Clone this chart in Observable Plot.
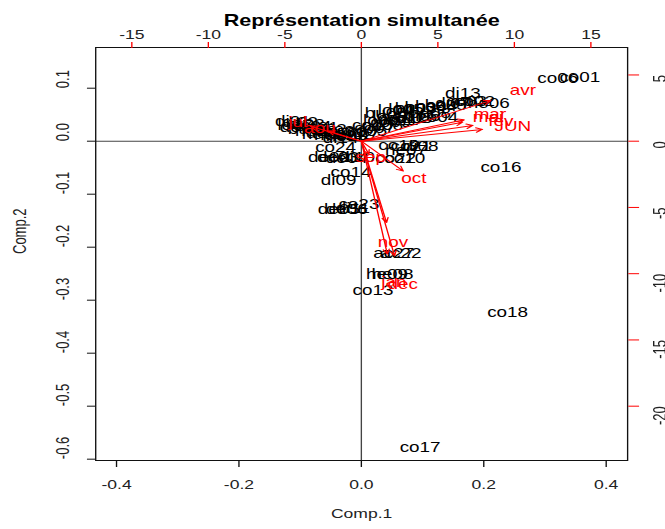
<!DOCTYPE html>
<html>
<head>
<meta charset="utf-8">
<script src="https://cdn.jsdelivr.net/npm/d3@7"></script>
<script src="https://cdn.jsdelivr.net/npm/@observablehq/plot@0.6"></script>
<style>
  html, body { margin: 0; padding: 0; background: #fff; }
  /* the device the biplot was drawn on had wide pixels: stretch horizontally */
  #chart { width: 493px; transform: scale(1.35, 1); transform-origin: 0 0; }
</style>
</head>
<body>
<div id="chart"></div>
<script>
// Scores of the sites on the first two principal components
const siteNames = [
  "di01","di02","di03","di04","lo01","lo02","lo03","bu01","bu02","he01","he02","he03","de01",
  "lo07","bu06","he10","de07","di14","bu07",
  "co05","co07","co08","co09","co11","co12","co04","di05","di06","lo04","lo05","bu03","bu04",
  "he04","he05","di07","co03","co02","he06","di13","bu05","lo06","co15","lo08","bu08",
  "co19","co21","di08","he07","co10","co22","co24","de02","de03","de04","di10","co14","di09",
  "co23","de05","de06","di11","ac22","ac27","he08","he09","co13",
  "co16","co18","co17","co06","co01"
];
const comp1 = [
  -0.112,-0.100,-0.089,-0.078,-0.066,-0.053,-0.040,-0.027,-0.014,-0.063,-0.043,-0.024,-0.099,
  -0.108,-0.086,-0.074,-0.056,-0.034,-0.006,
  0.009,0.022,0.035,0.048,0.061,0.074,0.125,0.087,0.100,0.056,0.073,0.089,0.105,
  0.122,0.138,0.150,0.172,0.185,0.208,0.166,0.040,0.032,0.018,0.047,0.112,
  0.061,0.081,0.097,0.073,0.071,0.056,-0.042,-0.053,-0.038,-0.024,-0.007,-0.017,-0.037,
  -0.004,-0.037,-0.024,-0.014,0.065,0.053,0.051,0.042,0.019,
  0.228,0.239,0.096,0.321,0.357
];
const comp2 = [
  0.037,0.035,0.032,0.028,0.026,0.022,0.018,0.016,0.013,0.013,0.011,0.009,0.026,
  0.030,0.022,0.018,0.014,0.006,0.010,
  0.018,0.024,0.030,0.035,0.039,0.043,0.045,0.043,0.047,0.058,0.060,0.062,0.063,
  0.065,0.067,0.071,0.075,0.075,0.071,0.090,0.052,0.039,0.030,0.046,0.053,
  -0.008,-0.010,-0.010,-0.018,-0.033,-0.033,-0.012,-0.031,-0.031,-0.033,-0.031,-0.059,-0.074,
  -0.119,-0.129,-0.129,-0.127,-0.212,-0.212,-0.252,-0.252,-0.282,
  -0.050,-0.323,-0.578,0.118,0.120
];

// Loadings of the monthly variables (secondary axes)
const monthNames = ["jan","fev","mar","avr","mai","JUN","jul","aou","sep","oct","nov","dec"];
const load1 = [2.12, 9.12, 8.40, 10.56, 8.27, 9.90, -4.15, -2.71, 0.62, 3.43, 2.06, 2.71];
const load2 = [-10.66, 1.49, 2.02, 3.83, 1.79, 1.11, 1.41, 0.96, -1.23, -2.82, -7.68, -10.81];

// Axis ticks
const xTicks = [-0.4, -0.2, 0.0, 0.2, 0.4];
const yTicks = [0.1, 0.0, -0.1, -0.2, -0.3, -0.4, -0.5, -0.6];
const topTicks = [-15, -10, -5, 0, 5, 10, 15];
const rightTicks = [5, 0, -5, -10, -15, -20];

// Ratio between the loading scale and the score scale
const ratio = 40;

const sites = siteNames.map((name, i) => ({name, x: comp1[i], y: comp2[i]}));
const months = monthNames.map((name, i) => ({name, x: load1[i], y: load2[i]}));

const font = "'Liberation Sans', Arial, Helvetica, sans-serif";

const chart = Plot.plot({
  width: 493,
  height: 529,
  marginTop: 47,
  marginBottom: 69,
  marginLeft: 70.4,
  marginRight: 28.6,
  x: {domain: [-0.434, 0.435], label: null},
  y: {domain: [-0.6025, 0.1768], label: null},
  style: {fontFamily: font, fontSize: "13px", color: "#000", background: "#fff", overflow: "visible"},
  marks: [
    // zero reference lines
    Plot.ruleY([0], {stroke: "#444", strokeWidth: 1}),
    Plot.ruleX([0], {stroke: "#444", strokeWidth: 1}),
    Plot.frame({stroke: "#111", strokeWidth: 1}),

    // bottom axis (scores)
    Plot.axisX(xTicks, {anchor: "bottom", tickSize: 7, tickPadding: 12, fontSize: 13,
      tickFormat: d => d.toFixed(1), label: null, stroke: "#111", fill: "#222"}),
    // left axis (scores)
    Plot.axisY(yTicks, {anchor: "left", tickSize: 6, tickFormat: () => "", label: null, stroke: "#111"}),
    Plot.text(yTicks, {y: d => d, text: d => d.toFixed(1), frameAnchor: "left", dx: -24,
      rotate: -90, fontSize: 13, fill: "#222"}),

    // top axis (loadings)
    Plot.axisX(topTicks.map(v => v / ratio), {anchor: "top", tickSize: 6, tickFormat: () => "",
      label: null, stroke: "#f00"}),
    Plot.text(topTicks, {x: d => d / ratio, text: d => String(d), frameAnchor: "top", dy: -18,
      fontSize: 13, fill: "#222"}),
    // right axis (loadings)
    Plot.axisY(rightTicks.map(v => v / ratio), {anchor: "right", tickSize: 8, tickFormat: () => "",
      label: null, stroke: "#f00"}),
    Plot.text(rightTicks, {y: d => d / ratio, text: d => String(d), frameAnchor: "right", dx: 24.6,
      rotate: -90, fontSize: 13, fill: "#222"}),

    // axis titles and main title
    Plot.text(["Comp.1"], {frameAnchor: "bottom", dy: 57, fontSize: 13, fill: "#222"}),
    Plot.text(["Comp.2"], {frameAnchor: "left", dx: -55.6, rotate: -90, fontSize: 13, fill: "#222"}),
    Plot.text(["Représentation simultanée"], {frameAnchor: "top", dy: -33, fontSize: 16,
      fontWeight: "bold", fill: "#000"}),

    // sites
    Plot.text(sites, {x: "x", y: "y", text: "name", fontSize: 14, fill: "#000"}),

    // months: arrows to 80% of the loading, label at the loading
    Plot.arrow(months, {
      x1: () => 0, y1: () => 0,
      x2: d => 0.8 * d.x / ratio, y2: d => 0.8 * d.y / ratio,
      stroke: "#f00", strokeWidth: 1, headLength: 8, headAngle: 50
    }),
    Plot.text(months, {x: d => d.x / ratio, y: d => d.y / ratio, text: "name", fontSize: 14, fill: "#f00"})
  ]
});

document.getElementById("chart").appendChild(chart);
</script>
</body>
</html>
